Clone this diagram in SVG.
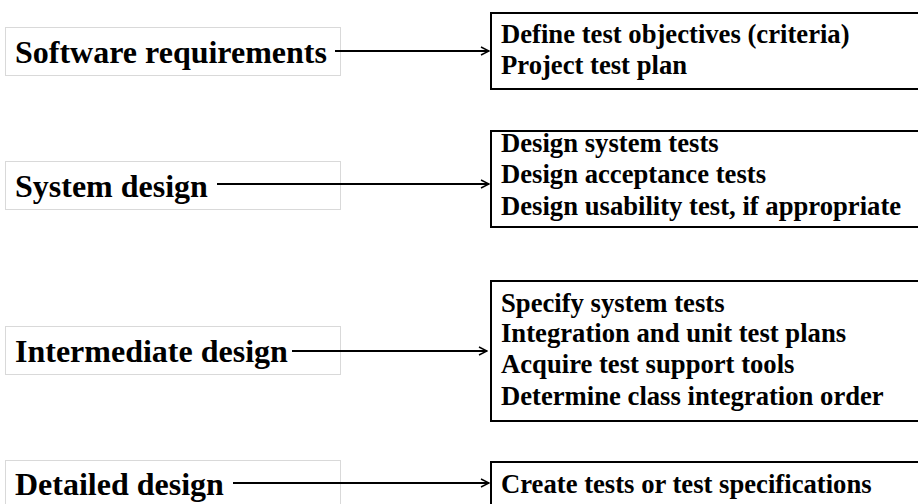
<svg xmlns="http://www.w3.org/2000/svg" width="918" height="504" viewBox="0 0 918 504">
<defs>
<style>
.lb{fill:none;stroke:#d9d9d9;stroke-width:1}
.rb{fill:none;stroke:#000;stroke-width:2}
.lt{font-family:"Liberation Serif","Times New Roman",serif;font-weight:bold;font-size:32px;fill:#000}
.rt{font-family:"Liberation Serif","Times New Roman",serif;font-weight:bold;font-size:26.67px;fill:#000}
.ar{fill:none;stroke:#000;stroke-width:2;marker-end:url(#ah)}
</style>
<marker id="ah" viewBox="0 0 10 10" refX="9" refY="5" markerWidth="5" markerHeight="5" orient="auto" markerUnits="strokeWidth">
<path d="M1,1 L9,5 L1,9" fill="none" stroke="#000" stroke-width="1.4"/>
</marker>
</defs>
<rect width="918" height="504" fill="#fff"/>
<g id="n-software-requirements">
<rect class="lb" x="5.5" y="27.5" width="335" height="48"/>
<text class="lt" x="15" y="63">Software requirements</text>
</g>
<g id="n-system-design">
<rect class="lb" x="5.5" y="161.5" width="335" height="48"/>
<text class="lt" x="15" y="197">System design</text>
</g>
<g id="n-intermediate-design">
<rect class="lb" x="5.5" y="326.5" width="335" height="48"/>
<text class="lt" x="15" y="362">Intermediate design</text>
</g>
<g id="n-detailed-design">
<rect class="lb" x="5.5" y="460.5" width="335" height="60"/>
<text class="lt" x="15" y="495">Detailed design</text>
</g>
<g id="n-box1">
<rect class="rb" x="491" y="13" width="440" height="76"/>
<text class="rt" x="501" y="43">Define test objectives (criteria)</text>
<text class="rt" x="501" y="74">Project test plan</text>
</g>
<g id="n-box2">
<rect class="rb" x="491" y="131" width="440" height="96"/>
<text class="rt" x="501" y="152">Design system tests</text>
<text class="rt" x="501" y="183">Design acceptance tests</text>
<text class="rt" x="501" y="215">Design usability test, if appropriate</text>
</g>
<g id="n-box3">
<rect class="rb" x="491" y="281" width="440" height="140"/>
<text class="rt" x="501" y="312">Specify system tests</text>
<text class="rt" x="501" y="342">Integration and unit test plans</text>
<text class="rt" x="501" y="373">Acquire test support tools</text>
<text class="rt" x="501" y="405">Determine class integration order</text>
</g>
<g id="n-box4">
<rect class="rb" x="491" y="462" width="440" height="60"/>
<text class="rt" x="501" y="493">Create tests or test specifications</text>
</g>
<g id="connectors">
<line class="ar" x1="335" y1="51" x2="489" y2="51"/>
<line class="ar" x1="217" y1="184" x2="489" y2="184"/>
<line class="ar" x1="292" y1="351" x2="487" y2="351"/>
<line class="ar" x1="233" y1="483" x2="489" y2="483"/>
</g>
</svg>
